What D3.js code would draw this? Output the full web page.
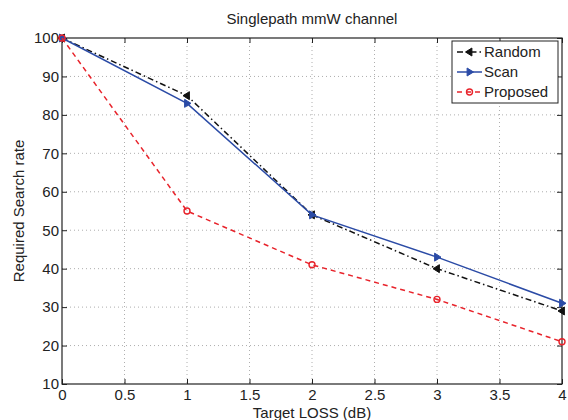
<!DOCTYPE html>
<html><head><meta charset="utf-8">
<script src="https://cdn.jsdelivr.net/npm/d3@7"></script>
<style>body{margin:0;background:#fff}text{font-family:"Liberation Sans",Arial,sans-serif;fill:#222}</style>
</head><body>
<svg id="c" width="568" height="420"></svg>
<script>
const xValues = [0, 1, 2, 3, 4];
const randomVals = [100, 85, 54, 40, 29];
const scanVals = [100, 83, 54, 43, 31];
const proposedVals = [100, 55, 41, 32, 21];
const xTicks = [0, 0.5, 1, 1.5, 2, 2.5, 3, 3.5, 4];
const yTicks = [10, 20, 30, 40, 50, 60, 70, 80, 90, 100];
const seriesNames = ["Random", "Scan", "Proposed"];

const svg = d3.select("#c");
const L = 62, R = 562, T = 38, B = 384;
const x = d3.scaleLinear().domain([0, 4]).range([L, R]);
const y = d3.scaleLinear().domain([10, 100]).range([B, T]);
const FS = "15px";

// grid
const g = svg.append("g");
g.selectAll(".gx").data(xTicks.slice(1, -1)).join("line")
  .attr("x1", d => x(d)).attr("x2", d => x(d)).attr("y1", T).attr("y2", B)
  .attr("stroke", "#999").attr("stroke-width", 0.8).attr("stroke-dasharray", "1,3");
g.selectAll(".gy").data(yTicks.slice(1, -1)).join("line")
  .attr("x1", L).attr("x2", R).attr("y1", d => y(d)).attr("y2", d => y(d))
  .attr("stroke", "#999").attr("stroke-width", 0.8).attr("stroke-dasharray", "1,3");

// axes
const xAxis = svg.append("g").attr("transform", `translate(0,${B})`)
  .call(d3.axisBottom(x).tickValues(xTicks).tickFormat(d3.format("")).tickSizeInner(-5).tickSizeOuter(0).tickPadding(8));
const xAxisTop = svg.append("g").attr("transform", `translate(0,${T})`)
  .call(d3.axisTop(x).tickValues(xTicks).tickFormat("").tickSizeInner(-5).tickSizeOuter(0));
const yAxis = svg.append("g").attr("transform", `translate(${L},0)`)
  .call(d3.axisLeft(y).tickValues(yTicks).tickSizeInner(-5).tickSizeOuter(0).tickPadding(3));
const yAxisR = svg.append("g").attr("transform", `translate(${R},0)`)
  .call(d3.axisRight(y).tickValues(yTicks).tickFormat("").tickSizeInner(-5).tickSizeOuter(0));
[xAxis, xAxisTop, yAxis, yAxisR].forEach(a => {
  a.select(".domain").remove();
  a.selectAll("line").attr("stroke", "#222");
  a.selectAll("text").style("font-size", FS).style("font-family", '"Liberation Sans",Arial,sans-serif').attr("fill", "#222");
});
xAxis.selectAll("text").attr("dy", "0.5em");
svg.append("rect").attr("x", L).attr("y", T).attr("width", R - L).attr("height", B - T)
  .attr("fill", "none").attr("stroke", "#222").attr("stroke-width", 1.2);

// series
const series = [
  {name: seriesNames[0], vals: randomVals, color: "#111", dash: "6,3,1.5,3", marker: "left"},
  {name: seriesNames[1], vals: scanVals, color: "#2b4ba6", dash: null, marker: "right"},
  {name: seriesNames[2], vals: proposedVals, color: "#e8232b", dash: "5,4", marker: "circle"}
];
const line = d3.line().x((d, i) => x(xValues[i])).y(d => y(d));
function marker(sel, type, color, cx, cy) {
  if (type === "circle") {
    sel.append("circle").attr("cx", cx).attr("cy", cy).attr("r", 3)
      .attr("fill", "none").attr("stroke", color).attr("stroke-width", 1.4);
  } else {
    const s = 4;
    const pts = type === "left"
      ? [[cx - s, cy], [cx + s * 0.6, cy - s], [cx + s * 0.6, cy + s]]
      : [[cx + s, cy], [cx - s * 0.6, cy - s], [cx - s * 0.6, cy + s]];
    sel.append("path").attr("d", "M" + pts.join("L") + "Z")
      .attr("fill", color).attr("stroke", color).attr("stroke-width", 1);
  }
}
series.forEach(s => {
  svg.append("path").datum(s.vals).attr("d", line).attr("fill", "none")
    .attr("stroke", s.color).attr("stroke-width", 1.5)
    .attr("stroke-dasharray", s.dash);
  const mg = svg.append("g");
  s.vals.forEach((v, i) => marker(mg, s.marker, s.color, x(xValues[i]), y(v)));
});

// legend
const lx = 452, ly = 41;
const leg = svg.append("g");
leg.append("rect").attr("x", lx).attr("y", ly).attr("width", 106).attr("height", 62)
  .attr("fill", "#fff").attr("stroke", "#222").attr("stroke-width", 1);
series.forEach((s, i) => {
  const cy = ly + 11 + i * 20;
  leg.append("line").attr("x1", lx + 5).attr("x2", lx + 30).attr("y1", cy).attr("y2", cy)
    .attr("stroke", s.color).attr("stroke-width", 1.5).attr("stroke-dasharray", s.dash);
  marker(leg, s.marker, s.color, lx + 17.5, cy);
  leg.append("text").attr("x", lx + 32).attr("y", cy).attr("dy", "0.36em")
    .style("font-size", FS).text(s.name);
});

// titles
svg.append("text").attr("x", 312).attr("y", 24).attr("text-anchor", "middle")
  .style("font-size", FS).text("Singlepath mmW channel");
svg.append("text").attr("x", 312).attr("y", 418).attr("text-anchor", "middle")
  .style("font-size", FS).text("Target LOSS (dB)");
svg.append("text").attr("transform", "translate(24,211) rotate(-90)").attr("text-anchor", "middle")
  .style("font-size", FS).text("Required Search rate");
</script>
</body></html>
